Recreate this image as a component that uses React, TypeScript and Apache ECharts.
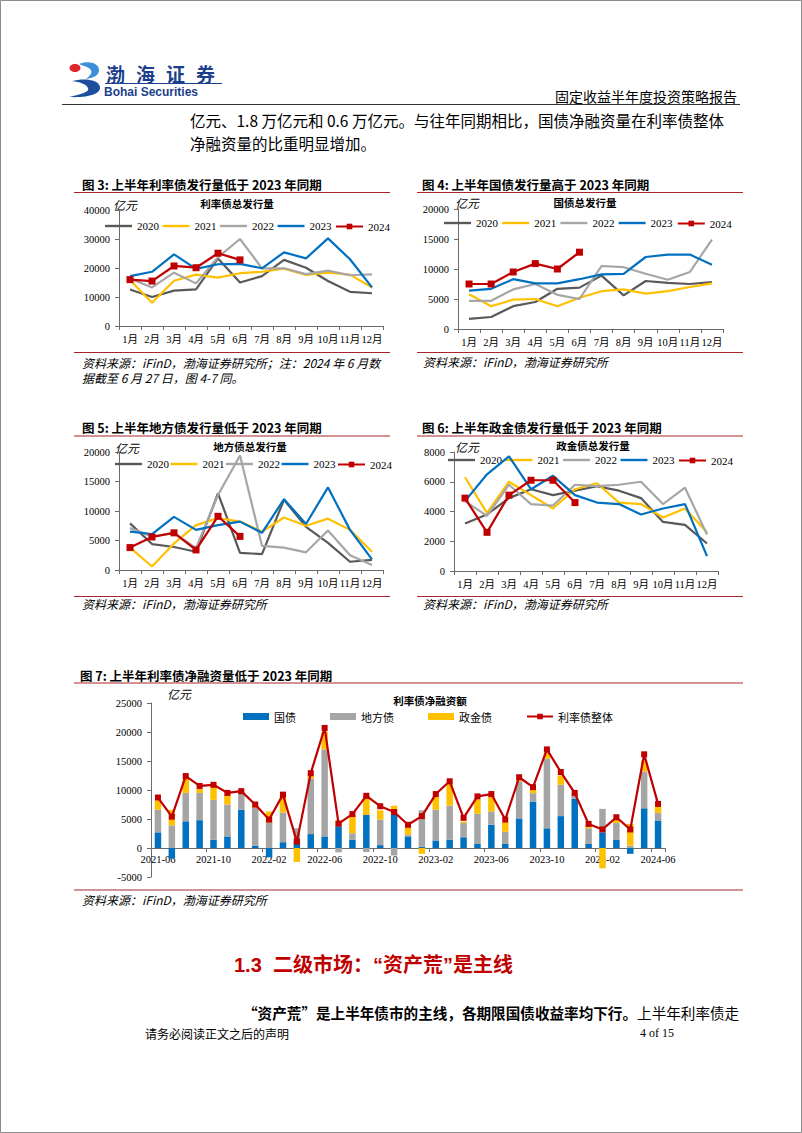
import React, { useEffect, useRef } from "react";
import * as echarts from "echarts";

const months = ["1月", "2月", "3月", "4月", "5月", "6月", "7月", "8月", "9月", "10月", "11月", "12月"];
const years = ["2020", "2021", "2022", "2023", "2024"];
const yearColors = ["#595959", "#FFC000", "#A6A6A6", "#0070C0", "#C00000"];

// 图3 利率债总发行量
const rate2020 = [12600, 10000, 12200, 12600, 23300, 15000, 17200, 22800, 20100, 15500, 11800, 11300];
const rate2021 = [15900, 8000, 15600, 17700, 16700, 18200, 18700, 19800, 17600, 18400, 17700, 13300];
const rate2022 = [16400, 13300, 18400, 14700, 23700, 30000, 19900, 19900, 17900, 19100, 17500, 17800];
const rate2023 = [17200, 18700, 24700, 19700, 21300, 21400, 19900, 25400, 23300, 30200, 23000, 13300];
const rate2024 = [16000, 15500, 20700, 20100, 25100, 22800];

// 图4 国债总发行量
const gov2020 = [1700, 2000, 3800, 4500, 6700, 6900, 8900, 5600, 8000, 7700, 7500, 7800];
const gov2021 = [5800, 3800, 4900, 5000, 3800, 5200, 6300, 6600, 5900, 6300, 7000, 7600];
const gov2022 = [4700, 4700, 6600, 7500, 5700, 5000, 10500, 10300, 9200, 8200, 9500, 14900];
const gov2023 = [6400, 6700, 8300, 7600, 7600, 8300, 9100, 9200, 12000, 12400, 12400, 10700];
const gov2024 = [7500, 7500, 9500, 10900, 10000, 12800];

// 图5 地方债总发行量
const loc2020 = [7900, 4400, 3900, 3100, 13000, 2900, 2700, 11900, 7300, 4600, 1400, 1700];
const loc2021 = [3800, 600, 4500, 7600, 8800, 8200, 6500, 8900, 7500, 8700, 6800, 3100];
const loc2022 = [7100, 5700, 6300, 3700, 12700, 19400, 4100, 3800, 3000, 6700, 2500, 850];
const loc2023 = [6500, 6100, 9000, 6800, 7600, 8200, 6300, 12000, 7800, 14000, 6800, 1800];
const loc2024 = [3800, 5600, 6300, 3400, 9100, 5700];

// 图6 政金债总发行量
const pb2020 = [3200, 3800, 4900, 5500, 5100, 5400, 5700, 5400, 4900, 3300, 3100, 1850];
const pb2021 = [6300, 3900, 6000, 5100, 4200, 5500, 5900, 4600, 4500, 3600, 4200, 2600];
const pb2022 = [4700, 3700, 5800, 4500, 4400, 5800, 5700, 5800, 6000, 4500, 5600, 2450];
const pb2023 = [4700, 6500, 7700, 5500, 6400, 5100, 4600, 4500, 3800, 4200, 4500, 1000];
const pb2024 = [4900, 2600, 5100, 6100, 6100, 4600];

// 图7 利率债净融资额
const netMonths = [
  "2021-06", "2021-07", "2021-08", "2021-09", "2021-10", "2021-11", "2021-12",
  "2022-01", "2022-02", "2022-03", "2022-04", "2022-05", "2022-06", "2022-07", "2022-08",
  "2022-09", "2022-10", "2022-11", "2022-12", "2023-01", "2023-02", "2023-03", "2023-04",
  "2023-05", "2023-06", "2023-07", "2023-08", "2023-09", "2023-10", "2023-11", "2023-12",
  "2024-01", "2024-02", "2024-03", "2024-04", "2024-05", "2024-06",
];
const netGov = [2700, -1800, 4600, 4800, 1400, 2000, 6600, 400, -1600, 1000, 1000, 2400, 2000, 3750, 1450, 5700, 500, 5800, 2000, 200, 1300, 1450, 1850, 700, 4000, 700, 5100, 8000, 3400, 5500, 8500, 700, 2700, 1400, -1000, 6850, 4750];
const netLocal = [3900, 3900, 4900, 4700, 6900, 5500, 3000, 6500, 4400, 5100, 2400, 9600, 15000, -750, 1100, -700, 4400, -1300, 300, 6300, 5300, 5850, 2450, 5200, 2300, 2100, 6400, 1450, 12000, 5400, 700, 2700, 4050, 2900, 400, 6350, 1300];
const netPolicy = [1600, 2700, 2500, 700, 2600, 1700, 200, 300, 1900, 3000, -2400, 500, 3000, 1000, 2950, 3300, 1600, 1500, 1300, -1000, 2200, 3800, 250, 2500, 2600, 1650, 200, 550, 1000, 1600, 200, 450, -3500, 600, 3750, 1900, 1100];
const netTotal = [8700, 5400, 12400, 10700, 10900, 9500, 9800, 7500, 4900, 9200, 1100, 12900, 20700, 4200, 5850, 9000, 7200, 6200, 4000, 5500, 9300, 11500, 5200, 8900, 9300, 4900, 12200, 10500, 17000, 13100, 9500, 4150, 3200, 5300, 3200, 16150, 7600];

const CJK = '"Noto Sans CJK SC", sans-serif';
const SERIF = '"Liberation Serif", "Noto Sans CJK SC", serif';
const SANS = '"Liberation Sans", "Noto Sans CJK SC", sans-serif';
const AXIS_COLOR = "#6b6b6b";
const RED_LINE = "#A8262B";

function txt(text: string, x: number, y: number, o: any = {}) {
  return {
    type: "text",
    x,
    y,
    silent: true,
    style: {
      text,
      fontSize: o.size || 12,
      fontFamily: o.family || CJK,
      fontWeight: o.weight || "normal",
      fontStyle: o.italic ? "italic" : "normal",
      fill: o.color || "#000",
      textAlign: o.align || "left",
      align: o.align || "left",
      textVerticalAlign: "middle",
      verticalAlign: "middle",
      rich: o.rich,
    },
  };
}

function hline(x1: number, x2: number, y: number, color: string, w = 1) {
  return { type: "line", silent: true, shape: { x1, y1: y, x2, y2: y }, style: { stroke: color, lineWidth: w } };
}

const plain = (v: number) => String(v);

export default function App() {
  const ref = useRef<HTMLDivElement>(null);

  useEffect(() => {
    if (!ref.current) return;
    echarts.graphic.registerShape(
      "logoTop",
      echarts.graphic.extendPath("M11 3 C20 -1 32 2 31 10 C30 15 25 17 18 18 C23 14 25 11 22 8 C19 5 15 5 11 3 Z", {})
    );
    echarts.graphic.registerShape(
      "logoBottom",
      echarts.graphic.extendPath("M4 20 C15 17 31 18 32 26 C33 33 20 37 1 36 C13 33 22 31 20 27 C18 23 12 21 4 20 Z", {})
    );
    const chart = echarts.init(ref.current, undefined, { renderer: "svg" });

    const lineSets = [
      [rate2020, rate2021, rate2022, rate2023, rate2024],
      [gov2020, gov2021, gov2022, gov2023, gov2024],
      [loc2020, loc2021, loc2022, loc2023, loc2024],
      [pb2020, pb2021, pb2022, pb2023, pb2024],
    ];
    const grids = [
      { left: 119, top: 210, width: 264, height: 116 },
      { left: 458, top: 209, width: 265, height: 120 },
      { left: 119, top: 452, width: 264, height: 118 },
      { left: 454, top: 452, width: 264, height: 119 },
      { left: 151, top: 703, width: 514, height: 174 },
    ];
    const yMax = [40000, 20000, 20000, 8000];
    const yInt = [10000, 5000, 5000, 2000];
    const legendPos = [
      { left: 105, top: 219, period: 57.5 },
      { left: 444, top: 216, period: 58.2 },
      { left: 115, top: 457, period: 55.5 },
      { left: 448, top: 453, period: 57.5 },
    ];

    const axisLabel = { fontFamily: SERIF, fontSize: 10.5, color: "#000" };
    const xAxes: any[] = [];
    const yAxes: any[] = [];
    const series: any[] = [];
    const legends: any[] = [];

    lineSets.forEach((set, i) => {
      xAxes.push({
        type: "category",
        gridIndex: i,
        data: months,
        boundaryGap: true,
        axisLine: { lineStyle: { color: AXIS_COLOR } },
        axisTick: { show: true, length: 4, lineStyle: { color: AXIS_COLOR } },
        axisLabel: { ...axisLabel, interval: 0, margin: 8 },
        splitLine: { show: false },
      });
      yAxes.push({
        type: "value",
        gridIndex: i,
        min: 0,
        max: yMax[i],
        interval: yInt[i],
        axisLine: { show: true, lineStyle: { color: AXIS_COLOR } },
        axisTick: { show: true, length: 4, lineStyle: { color: AXIS_COLOR } },
        axisLabel: { ...axisLabel, margin: 9, formatter: plain },
        splitLine: { show: false },
      });
      set.forEach((data, k) => {
        series.push({
          name: years[k],
          type: "line",
          xAxisIndex: i,
          yAxisIndex: i,
          data,
          symbol: k === 4 ? "rect" : "none",
          symbolSize: 7,
          z: 2 + k,
          lineStyle: { color: yearColors[k], width: 2.2 },
          itemStyle: { color: yearColors[k] },
        });
      });
      const lp = legendPos[i];
      const textW = 22;
      legends.push({
        data: years.slice(0, 4),
        left: lp.left,
        top: lp.top + 1.5,
        icon: "rect",
        itemWidth: 27,
        itemHeight: 2.4,
        itemGap: lp.period - 27 - 5 - textW,
        selectedMode: false,
        padding: 0,
        textStyle: { fontFamily: SERIF, fontSize: 11, color: "#000", width: textW },
      });
      legends.push({
        data: ["2024"],
        left: lp.left + 4 * lp.period,
        top: lp.top + 2,
        itemWidth: 27,
        itemHeight: 7,
        selectedMode: false,
        padding: 0,
        textStyle: { fontFamily: SERIF, fontSize: 11, color: "#000" },
      });
    });

    // chart 7
    xAxes.push({
      type: "category",
      gridIndex: 4,
      data: netMonths,
      boundaryGap: true,
      offset: -29,
      axisLine: { onZero: false, lineStyle: { color: AXIS_COLOR } },
      axisTick: { show: true, length: 4, interval: 3, lineStyle: { color: AXIS_COLOR } },
      axisLabel: { ...axisLabel, interval: 3, margin: 6 },
      splitLine: { show: false },
    });
    yAxes.push({
      type: "value",
      gridIndex: 4,
      min: -5000,
      max: 25000,
      interval: 5000,
      axisLine: { show: true, lineStyle: { color: AXIS_COLOR } },
      axisTick: { show: true, length: 4, lineStyle: { color: AXIS_COLOR } },
      axisLabel: { ...axisLabel, margin: 9, formatter: plain },
      splitLine: { show: false },
    });
    const barDefs = [
      { name: "国债", data: netGov, color: "#0070C0" },
      { name: "地方债", data: netLocal, color: "#A5A5A5" },
      { name: "政金债", data: netPolicy, color: "#FFC000" },
    ];
    barDefs.forEach((b) => {
      series.push({
        name: b.name,
        type: "bar",
        xAxisIndex: 4,
        yAxisIndex: 4,
        stack: "net",
        data: b.data,
        barWidth: 6.5,
        itemStyle: { color: b.color },
      });
    });
    series.push({
      name: "利率债整体",
      type: "line",
      xAxisIndex: 4,
      yAxisIndex: 4,
      data: netTotal,
      symbol: "rect",
      symbolSize: 6,
      z: 5,
      lineStyle: { color: "#C00000", width: 2.2 },
      itemStyle: { color: "#C00000" },
    });
    legends.push({
      data: [
        { name: "国债", icon: "rect" },
        { name: "地方债", icon: "rect" },
        { name: "政金债", icon: "rect" },
        { name: "利率债整体" },
      ],
      left: 243,
      top: 711,
      padding: 0,
      itemWidth: 26,
      itemHeight: 7,
      itemGap: 34,
      selectedMode: false,
      textStyle: { fontFamily: CJK, fontSize: 11, color: "#000" },
    });

    const g: any[] = [];
    // page border
    g.push({ type: "rect", silent: true, shape: { x: 0.5, y: 0.5, width: 801, height: 1132 }, style: { fill: "none", stroke: "#8c8c8c", lineWidth: 1 } });
    // logo
    g.push({ type: "logoTop", x: 68, y: 61, scaleX: 1, scaleY: 1, style: { fill: "#3D8FD9" } });
    g.push({ type: "logoBottom", x: 68, y: 61, scaleX: 1, scaleY: 1, style: { fill: "#1D4E9E" } });
    g.push({ type: "ellipse", silent: true, shape: { cx: 75, cy: 68, rx: 5.5, ry: 4 }, style: { fill: "#E0262B" } });
    ["渤", "海", "证", "券"].forEach((c, i) => g.push(txt(c, 106 + i * 30, 73, { size: 19, weight: "bold", color: "#1B3F8B" })));
    g.push(hline(105, 222, 83.5, "#1B3F8B", 1.2));
    g.push(txt("Bohai Securities", 104, 91.5, { size: 12, weight: "bold", color: "#1B3F8B", family: SANS }));
    g.push(txt("固定收益半年度投资策略报告", 737, 96, { size: 14, align: "right" }));
    g.push(hline(62, 740, 104.5, "#333", 1.2));
    g.push(txt("亿元、1.8 万亿元和 0.6 万亿元。与往年同期相比，国债净融资量在利率债整体", 190, 120, { size: 15.5 }));
    g.push(txt("净融资量的比重明显增加。", 190, 143, { size: 15.5 }));

    // figure frames
    const titles = [
      { t: "图 3: 上半年利率债发行量低于 2023 年同期", x: 82, y: 184 },
      { t: "图 4: 上半年国债发行量高于 2023 年同期", x: 422, y: 184 },
      { t: "图 5: 上半年地方债发行量低于 2023 年同期", x: 82, y: 427 },
      { t: "图 6: 上半年政金债发行量低于 2023 年同期", x: 422, y: 427 },
      { t: "图 7: 上半年利率债净融资量低于 2023 年同期", x: 80, y: 675 },
    ];
    titles.forEach((o) => g.push(txt(o.t, o.x, o.y, { size: 12.5, weight: "bold" })));
    g.push(hline(74, 390, 192.5, RED_LINE, 1.2));
    g.push(hline(417, 743, 192.5, RED_LINE, 1.2));
    g.push(hline(74, 390, 352.5, RED_LINE, 1.2));
    g.push(hline(417, 743, 352.5, RED_LINE, 1.2));
    g.push(hline(74, 390, 436, RED_LINE, 1.2));
    g.push(hline(417, 743, 436, RED_LINE, 1.2));
    g.push(hline(74, 390, 596.5, RED_LINE, 1.2));
    g.push(hline(417, 743, 596.5, RED_LINE, 1.2));
    g.push(hline(74, 743, 683, RED_LINE, 1.2));
    g.push(hline(74, 743, 890, RED_LINE, 1.2));

    const subs = [
      { t: "利率债总发行量", x: 237, y: 203 },
      { t: "国债总发行量", x: 585, y: 202 },
      { t: "地方债总发行量", x: 250, y: 446 },
      { t: "政金债总发行量", x: 593, y: 445 },
      { t: "利率债净融资额", x: 430, y: 700 },
    ];
    subs.forEach((o) => g.push(txt(o.t, o.x, o.y, { size: 10.5, weight: "bold", align: "center" })));
    const units = [
      { x: 113, y: 204 },
      { x: 455, y: 202 },
      { x: 115, y: 447 },
      { x: 455, y: 446 },
      { x: 167, y: 693 },
    ];
    units.forEach((o) => g.push(txt("亿元", o.x, o.y, { size: 12, italic: true })));

    const src = "资料来源：iFinD，渤海证券研究所";
    g.push(txt(src + "；注：2024 年 6 月数", 82, 362, { size: 12, italic: true }));
    g.push(txt("据截至 6 月 27 日，图 4-7 同。", 82, 377, { size: 12, italic: true }));
    g.push(txt(src, 423, 361, { size: 12, italic: true }));
    g.push(txt(src, 82, 603, { size: 12, italic: true }));
    g.push(txt(src, 423, 603, { size: 12, italic: true }));
    g.push(txt(src, 82, 899, { size: 12, italic: true }));

    g.push(txt("1.3  二级市场：“资产荒”是主线", 234, 965, { size: 20, weight: "bold", color: "#C00000", family: SANS }));
    g.push(
      txt("{b|“资产荒”是上半年债市的主线，各期限国债收益率均下行。}{n|上半年利率债走}", 243, 1012, {
        size: 14.6,
        rich: {
          b: { fontSize: 14.6, fontWeight: "bold", fontFamily: CJK, fill: "#000" },
          n: { fontSize: 14.6, fontFamily: CJK, fill: "#000" },
        },
      })
    );
    g.push(txt("请务必阅读正文之后的声明", 145, 1033, { size: 12 }));
    g.push(txt("4 of 15", 640, 1033, { size: 12, family: SERIF }));

    chart.setOption({
      animation: false,
      backgroundColor: "#fff",
      grid: grids.map((r) => ({ ...r, containLabel: false })),
      xAxis: xAxes,
      yAxis: yAxes,
      legend: legends,
      series,
      graphic: { elements: g },
    });
    return () => chart.dispose();
  }, []);

  return (
    <div
      ref={ref}
      style={{ position: "absolute", left: 0, top: 0, width: 802, height: 1133, background: "#fff" }}
    />
  );
}
